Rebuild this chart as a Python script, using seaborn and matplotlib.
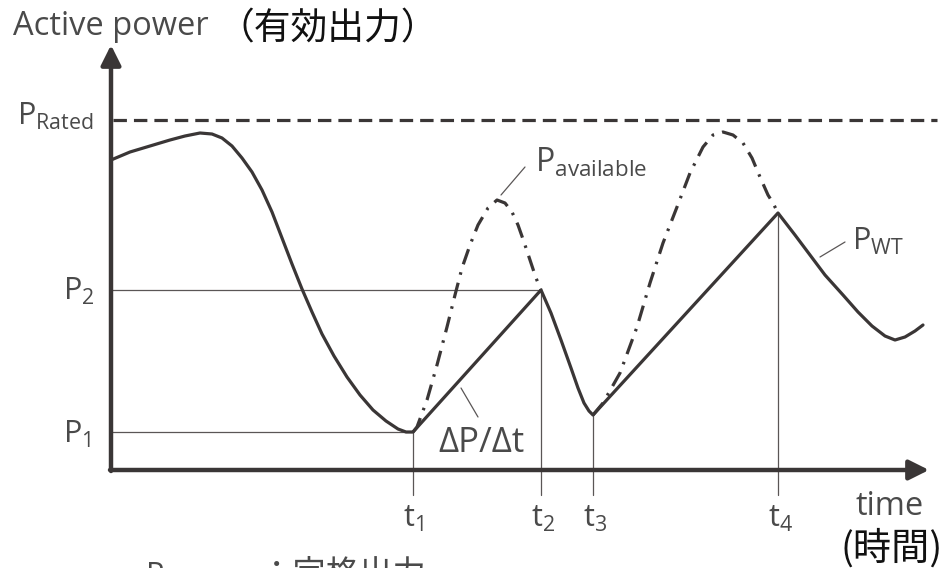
import numpy as np
import pandas as pd
import matplotlib
matplotlib.use("Agg")
import matplotlib.pyplot as plt
import seaborn as sns

# levels and times (schematic units: origin at the axis corner)
p_levels = {"P1": 38, "P2": 180, "Rated": 350}
t_marks = {"t1": 302, "t2": 430, "t3": 482, "t4": 667}

# P_WT curve
wt_time = [0, 19, 39, 59, 74, 89, 101, 111, 121, 131, 141, 151, 161, 171, 181,
           191, 201, 211, 223, 236, 249, 262, 275, 287, 295, 302,
           430, 440, 450, 460, 467, 473, 478, 482,
           667, 684, 699, 714, 732, 747, 761, 774, 784, 794, 804, 812]
wt_power = [310, 318, 324, 330, 334, 337, 336, 332, 324, 312, 298, 280, 258, 232, 206,
            181, 158, 136, 114, 93, 75, 60, 49, 41, 38, 38,
            180, 157, 130, 102, 82, 67, 59, 55,
            257, 235, 215, 195, 175, 158, 144, 134, 130, 133, 139, 145]

# P_available curves (dash-dot)
av1_time = [302, 306, 316, 326, 336, 344, 351, 359, 367, 377, 386, 394, 401, 407, 413, 419, 425, 430]
av1_power = [38, 43, 70, 105, 143, 175, 202, 225, 245, 262, 270, 267, 258, 245, 228, 210, 192, 180]
av2_time = [482, 492, 509, 526, 539, 552, 566, 579, 592, 602, 612, 622, 632, 641, 649, 657, 662, 667]
av2_power = [55, 67, 97, 143, 187, 227, 263, 297, 323, 335, 338, 335, 327, 312, 293, 275, 267, 257]

line_col = "#3a3636"
thin_col = "#5a5656"
text_col = "#4a4a4a"
jp = ["Noto Sans CJK JP", "DejaVu Sans"]

sns.set_style("white")
plt.rcParams["font.family"] = ["Open Sans", "Noto Sans CJK JP", "DejaVu Sans"]
plt.rcParams["mathtext.fontset"] = "custom"
plt.rcParams["mathtext.rm"] = "Open Sans"
plt.rcParams["mathtext.it"] = "Open Sans:italic"

fig = plt.figure(figsize=(9.45, 5.68), dpi=100)
ax = fig.add_axes([0, 0, 1, 1])
ax.set_xlim(-111, 834)
ax.set_ylim(-98, 470)
ax.axis("off")

# axes with arrows
arrow = dict(arrowstyle="-|>", lw=3.2, color=line_col, mutation_scale=30, shrinkA=0, shrinkB=0)
ax.annotate("", xy=(0, 425), xytext=(0, -1), arrowprops=arrow)
ax.annotate("", xy=(818, 0), xytext=(-1, 0), arrowprops=arrow)

# rated power dashed line
sns.lineplot(x=[2, 826], y=[p_levels["Rated"]] * 2, ax=ax, color=line_col, lw=2.3,
             linestyle=(0, (4.2, 2.2)))

# thin guides
sns.lineplot(x=[0, t_marks["t1"]], y=[p_levels["P1"]] * 2, ax=ax, color=thin_col, lw=0.9)
sns.lineplot(x=[0, t_marks["t2"]], y=[p_levels["P2"]] * 2, ax=ax, color=thin_col, lw=0.9)
tops = {"t1": 38, "t2": 180, "t3": 55, "t4": 257}
for k, tv in t_marks.items():
    ax.plot([tv, tv], [tops[k], -25], color=thin_col, lw=0.9)

# curves
sns.lineplot(x=av1_time, y=av1_power, ax=ax, sort=False, estimator=None, color=line_col,
             lw=2.3, linestyle=(0, (5, 2.6, 0.8, 2.6)))
sns.lineplot(x=av2_time, y=av2_power, ax=ax, sort=False, estimator=None, color=line_col,
             lw=2.3, linestyle=(0, (5, 2.6, 0.8, 2.6)))
sns.lineplot(x=wt_time, y=wt_power, ax=ax, sort=False, estimator=None, color=line_col,
             lw=2.3, solid_joinstyle="round", solid_capstyle="round")

# leader lines
ax.plot([390, 414], [275, 303], color=thin_col, lw=0.9)
ax.plot([709, 734], [213, 228], color=thin_col, lw=0.9)
ax.plot([350, 367], [82, 53], color=thin_col, lw=0.9)

fs = 22
# labels
ax.text(-98, 435, "Active power", fontsize=23.5, color=text_col, va="baseline", ha="left")
ax.text(106, 431, "（有効出力）", fontsize=26.5, color="#111111", va="baseline", ha="left", family=jp)
ax.text(-94, 345, r"$\mathrm{P}_{\mathrm{Rated}}$", fontsize=fs, color=text_col, va="baseline")
ax.text(-48, 170, r"$\mathrm{P}_{2}$", fontsize=fs, color=text_col, va="baseline")
ax.text(-48, 27, r"$\mathrm{P}_{1}$", fontsize=fs, color=text_col, va="baseline")
for k, tv in t_marks.items():
    ax.text(tv - 10, -57, r"$\mathrm{t}_{%s}$" % k[1], fontsize=fs, color=text_col, va="baseline")
ax.text(745, -45, "time", fontsize=23.5, color=text_col, va="baseline")
ax.text(729, -90, "(時間)", fontsize=27.5, color="#111111", va="baseline", family=jp)
ax.text(424, 298, r"$\mathrm{P}_{\mathrm{available}}$", fontsize=23, color=text_col, va="baseline")
ax.text(741, 220, r"$\mathrm{P}_{\mathrm{WT}}$", fontsize=fs, color=text_col, va="baseline")
ax.text(327, 18, "ΔP/Δt", fontsize=25, color=text_col, va="baseline")

# footnote, cut by the bottom edge as in the source
ax.text(34, -115, r"$\mathrm{P}_{\mathrm{Rated}}$", fontsize=fs, color=text_col, va="baseline")
ax.text(149, -114, "：定格出力", fontsize=24, color=text_col, va="baseline", family=jp)

fig.savefig("out.png", dpi=100)
